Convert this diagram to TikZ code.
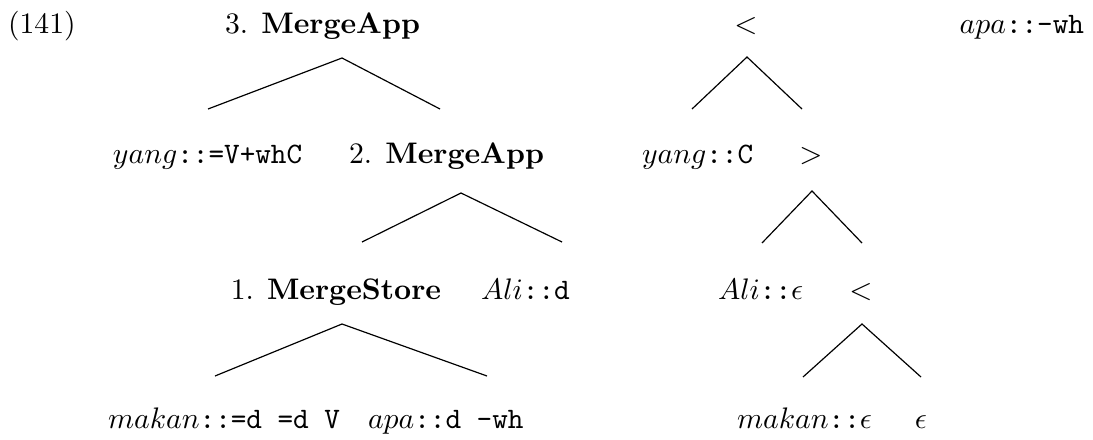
\documentclass[tikz,border=0pt]{standalone}
\begin{document}
\begin{tikzpicture}[x=0.3367pt,y=-0.3367pt,
  lbl/.style={inner sep=0pt,outer sep=0pt,font=\fontsize{10}{12}\selectfont},
  br/.style={line width=0.4pt}]
\useasboundingbox (0,0) rectangle (1093,439);
% row 1
\node[lbl,anchor=base west] (ex) at (8,33) {(141)};
\node[lbl,anchor=base east] (r3) at (420,33) {3. \textbf{MergeApp}};
\node[lbl,anchor=base] (lt1) at (746,33) {$<$};
\node[lbl,anchor=base east] (store) at (1084,33) {$apa$\texttt{::-wh}};
% row 2
\node[lbl,anchor=base west] (yangV) at (113,163) {$yang$\texttt{::=V+whC}};
\node[lbl,anchor=base east] (r2) at (544,163) {2. \textbf{MergeApp}};
\node[lbl,anchor=base west] (yangC) at (642,163) {$yang$\texttt{::C}};
\node[lbl,anchor=base] (gt) at (811,163) {$>$};
% row 3
\node[lbl,anchor=base east] (r1) at (441,299) {1. \textbf{MergeStore}};
\node[lbl,anchor=base west] (alid) at (481,299) {$Ali$\texttt{::d}};
\node[lbl,anchor=base west] (alie) at (718,299) {$Ali$\texttt{::}$\epsilon$};
\node[lbl,anchor=base] (lt2) at (861,299) {$<$};
% row 4
\node[lbl,anchor=base west] (makanV) at (108,428) {$makan$\texttt{::=d =d V}};
\node[lbl,anchor=base west] (apad) at (368,428) {$apa$\texttt{::d -wh}};
\node[lbl,anchor=base west] (makane) at (737,428) {$makan$\texttt{::}$\epsilon$};
\node[lbl,anchor=base] (eps) at (921,428) {$\epsilon$};
% branch points
\coordinate (r3b) at (342,58);
\coordinate (yangVt) at (208,109);
\coordinate (r2t) at (440,109);
\coordinate (r2b) at (461,193);
\coordinate (r1t) at (362,242);
\coordinate (alidt) at (562,242);
\coordinate (r1b) at (342,324);
\coordinate (makanVt) at (215,376);
\coordinate (apadt) at (487,376);
\coordinate (lt1b) at (747,57);
\coordinate (yangCt) at (692,109);
\coordinate (gtt) at (802,109);
\coordinate (gtb) at (812,191);
\coordinate (aliet) at (762,243);
\coordinate (lt2t) at (862,243);
\coordinate (lt2b) at (862,324);
\coordinate (makanet) at (803,377);
\coordinate (epst) at (921,377);
% branches
\draw[br] (yangVt) -- (r3b) -- (r2t);
\draw[br] (r1t) -- (r2b) -- (alidt);
\draw[br] (makanVt) -- (r1b) -- (apadt);
\draw[br] (yangCt) -- (lt1b) -- (gtt);
\draw[br] (aliet) -- (gtb) -- (lt2t);
\draw[br] (makanet) -- (lt2b) -- (epst);
\end{tikzpicture}
\end{document}
